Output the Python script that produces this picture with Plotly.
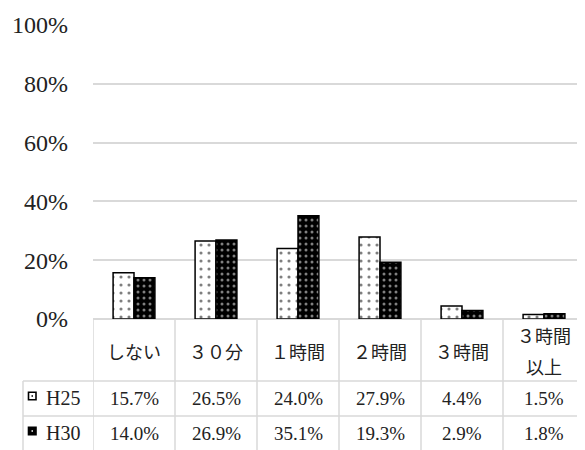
import plotly.graph_objects as go

categories = ["しない", "３０分", "１時間", "２時間", "３時間", "３時間<br>以上"]
series_names = ["H25", "H30"]
h25 = [0.157, 0.265, 0.240, 0.279, 0.044, 0.015]
h30 = [0.140, 0.269, 0.351, 0.193, 0.029, 0.018]
y_ticks = [0, 0.2, 0.4, 0.6, 0.8, 1.0]

OFF = 8  # page body margin
W, H = 585 - OFF, 450 - OFF
L, T, B = 93 - OFF, 25 - OFF, 131
PH = H - T - B
PW = W - L

def py(p):  # reference pixel y -> paper y
    return (H - B - (p - OFF)) / PH

def px(p):  # reference pixel x -> paper x
    return (p - OFF - L) / PW

serif = "Liberation Serif"
cjk = "Noto Sans CJK JP"
grid = "#d9d9d9"

xs = list(range(len(categories)))
fig = go.Figure()
fig.add_bar(x=xs, y=h25, name=series_names[0],
            marker=dict(color="white", line=dict(color="black", width=1.5),
                        pattern=dict(shape=".", bgcolor="white", fgcolor="black",
                                     size=8, solidity=0.12, fillmode="overlay")))
fig.add_bar(x=xs, y=h30, name=series_names[1],
            marker=dict(color="black", line=dict(color="black", width=1.5),
                        pattern=dict(shape=".", bgcolor="black", fgcolor="white",
                                     size=6, solidity=0.2, fillmode="overlay")))

shapes = []
ann = []
line = dict(color=grid, width=1.5)
for i in range(len(categories) + 1):
    shapes.append(dict(type="line", xref="x", yref="paper", x0=i - 0.5, x1=i - 0.5,
                       y0=0, y1=py(452), line=line))
shapes.append(dict(type="line", xref="paper", yref="paper", x0=px(23), x1=px(23),
                   y0=py(381), y1=py(452), line=line))
for yy in (381, 416):
    shapes.append(dict(type="line", xref="paper", yref="paper", x0=px(23), x1=1,
                       y0=py(yy), y1=py(yy), line=line))

for i, c in enumerate(categories):
    parts = c.split("<br>")
    if len(parts) == 1:
        ys = [351]
    else:
        ys = [335, 366]
    for part, yy in zip(parts, ys):
        ann.append(dict(x=i, y=py(yy), xref="x", yref="paper", text=part, showarrow=False,
                        font=dict(family=cjk, size=18, color="#222222"), xanchor="center",
                        yanchor="middle"))
rows = [(h25, 398), (h30, 433)]
for (vals, yy), name, dark in zip(rows, series_names, (False, True)):
    for i, v in enumerate(vals):
        ann.append(dict(x=i, y=py(yy), xref="x", yref="paper", text=f"{v*100:.1f}%",
                        showarrow=False, font=dict(family=serif, size=19, color="#222222"),
                        xanchor="center", yanchor="middle"))
    ann.append(dict(x=px(44), y=py(yy), xref="paper", yref="paper", text=name,
                    showarrow=False, font=dict(family=serif, size=20, color="#222222"),
                    xanchor="left", yanchor="middle"))
    cy = yy - 2
    shapes.append(dict(type="rect", xref="paper", yref="paper", x0=px(28.5), x1=px(36),
                       y0=py(cy - 3.8), y1=py(cy + 3.8),
                       fillcolor="black" if dark else "white",
                       line=dict(color="black", width=1.6)))
    shapes.append(dict(type="rect", xref="paper", yref="paper", x0=px(31.5), x1=px(33),
                       y0=py(cy - 0.8), y1=py(cy + 0.8),
                       fillcolor="white" if dark else "black", line=dict(width=0)))

fig.update_layout(
    width=W, height=H,
    margin=dict(l=L, r=0, t=T, b=B),
    paper_bgcolor="white", plot_bgcolor="white",
    barmode="group", bargap=0.49, bargroupgap=0,
    showlegend=False,
    shapes=shapes, annotations=ann,
    xaxis=dict(range=[-0.5, 5.5], showticklabels=False, showgrid=False,
               zeroline=False, showline=False, ticks=""),
    yaxis=dict(range=[0, 1], tickvals=y_ticks, tickformat=".0%",
               showgrid=True, gridcolor=grid, gridwidth=1.5,
               zeroline=True, zerolinecolor=grid, zerolinewidth=1.5,
               showline=False, ticks="", ticklabelstandoff=24,
               tickfont=dict(family=serif, size=24, color="#222222")),
)
fig.write_html("out.html")
